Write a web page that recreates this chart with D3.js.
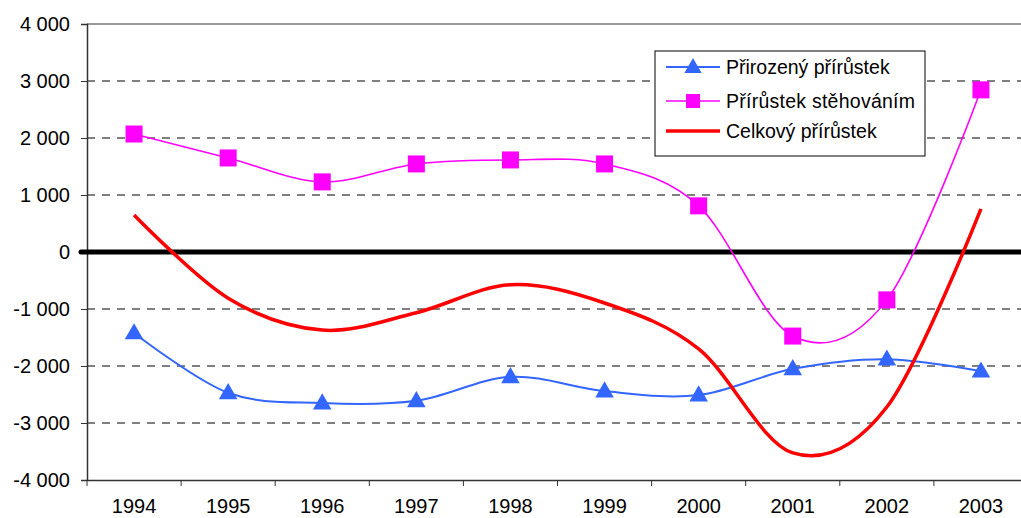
<!DOCTYPE html>
<html>
<head>
<meta charset="utf-8">
<script src="https://cdn.jsdelivr.net/npm/d3@7"></script>
<style>
  body { margin: 0; background: #fff; }
  svg { display: block; font-family: "Liberation Sans", Arial, sans-serif; }
</style>
</head>
<body>
<script>
// values
var years = ["1994", "1995", "1996", "1997", "1998", "1999", "2000", "2001", "2002", "2003"];
var prirozeny = [-1420, -2470, -2650, -2610, -2190, -2440, -2510, -2050, -1880, -2090];
var stehovani = [2070, 1650, 1230, 1545, 1615, 1545, 810, -1475, -840, 2845];
var celkovy = [650, -810, -1370, -1065, -575, -895, -1700, -3525, -2720, 755];
var yTicks = [-4000, -3000, -2000, -1000, 0, 1000, 2000, 3000, 4000];
var legendNames = ["Přirozený přírůstek", "Přírůstek stěhováním", "Celkový přírůstek"];

var W = 1021, H = 518;
var plotLeft = 87, plotRight = 1028, plotTop = 24, plotBottom = 480;

var svg = d3.select("body").append("svg")
    .attr("width", W)
    .attr("height", H);

var x = d3.scaleBand().domain(years).range([plotLeft, plotRight]);
var y = d3.scaleLinear().domain([-4000, 4000]).range([plotBottom, plotTop]);

var loc = d3.formatLocale({ decimal: ",", thousands: " ", grouping: [3], currency: ["", ""], minus: "-" });
var fmt = loc.format(",d");

// grid lines (dashed)
svg.append("g").selectAll("line")
    .data(yTicks.filter(function (d) { return d != 0 && d != 4000 && d != -4000; }))
    .enter().append("line")
    .attr("x1", plotLeft).attr("x2", plotRight)
    .attr("y1", function (d) { return y(d); })
    .attr("y2", function (d) { return y(d); })
    .attr("stroke", "#000")
    .attr("stroke-width", 1)
    .attr("stroke-dasharray", "8,7");

// plot area top border
svg.append("line")
    .attr("x1", plotLeft).attr("x2", plotRight)
    .attr("y1", y(4000)).attr("y2", y(4000))
    .attr("stroke", "#999").attr("stroke-width", 2);

// y axis
var yAxis = svg.append("g")
    .attr("transform", "translate(" + plotLeft + ",0)")
    .call(d3.axisLeft(y).tickValues(yTicks).tickFormat(fmt).tickSize(6).tickPadding(11));
yAxis.select(".domain").attr("stroke", "#333").attr("stroke-width", 1.5);
yAxis.selectAll(".tick line").attr("stroke", "#333");
yAxis.selectAll("text").attr("font-size", 20).attr("fill", "#000")
    .attr("font-family", "Liberation Sans, Arial, sans-serif");

// x axis, ticks between categories
var xAxis = svg.append("g")
    .attr("transform", "translate(0," + plotBottom + ")")
    .call(d3.axisBottom(x).tickSize(0).tickPadding(19));
xAxis.select(".domain").attr("stroke", "#333").attr("stroke-width", 1.5);
xAxis.selectAll("text").attr("font-size", 20).attr("fill", "#000")
    .attr("font-family", "Liberation Sans, Arial, sans-serif");
xAxis.selectAll(".sep")
    .data(years)
    .enter().append("line")
    .attr("class", "sep")
    .attr("x1", function (d) { return x(d); })
    .attr("x2", function (d) { return x(d); })
    .attr("y1", 0).attr("y2", 6)
    .attr("stroke", "#333");

// zero line
svg.append("line")
    .attr("x1", plotLeft - 6).attr("x2", plotRight)
    .attr("y1", y(0)).attr("y2", y(0))
    .attr("stroke", "#000").attr("stroke-width", 5)
    .attr("stroke-linecap", "round");

var cx = function (i) { return x(years[i]) + x.bandwidth() / 2; };
var line = d3.line()
    .x(function (d, i) { return cx(i); })
    .y(function (d) { return y(d); })
    .curve(d3.curveCardinal.tension(0));

var blue = "#3366ff", magenta = "#ff00ff", red = "#ff0000";

svg.append("path").datum(prirozeny)
    .attr("d", line).attr("fill", "none")
    .attr("stroke", blue).attr("stroke-width", 2);
svg.append("path").datum(stehovani)
    .attr("d", line).attr("fill", "none")
    .attr("stroke", magenta).attr("stroke-width", 1.6);
svg.append("path").datum(celkovy)
    .attr("d", line).attr("fill", "none")
    .attr("stroke", red).attr("stroke-width", 3.5);

var tri = d3.symbol().type(d3.symbolTriangle).size(150);
svg.append("g").selectAll("path")
    .data(prirozeny).enter().append("path")
    .attr("d", tri)
    .attr("transform", function (d, i) { return "translate(" + cx(i) + "," + (y(d) + 1) + ")"; })
    .attr("fill", blue);

svg.append("g").selectAll("rect")
    .data(stehovani).enter().append("rect")
    .attr("x", function (d, i) { return cx(i) - 8.5; })
    .attr("y", function (d) { return y(d) - 8.5; })
    .attr("width", 17).attr("height", 17)
    .attr("fill", magenta);

// legend
var lg = svg.append("g").attr("transform", "translate(655,51)");
lg.append("rect")
    .attr("width", 270).attr("height", 105)
    .attr("fill", "#fff").attr("stroke", "#000").attr("stroke-width", 1);
var rows = [16, 50, 80];
var colors = [blue, magenta, red];
var widths = [2, 1.6, 3.5];
legendNames.forEach(function (name, i) {
    lg.append("line")
        .attr("x1", 11).attr("x2", 65)
        .attr("y1", rows[i]).attr("y2", rows[i])
        .attr("stroke", colors[i]).attr("stroke-width", widths[i]);
    lg.append("text")
        .attr("x", 71).attr("y", rows[i] + 7)
        .attr("font-size", 19.5)
        .attr("textLength", i == 1 ? 189 : null)
        .text(name);
});
lg.append("path")
    .attr("d", d3.symbol().type(d3.symbolTriangle).size(130))
    .attr("transform", "translate(38," + (rows[0] + 1) + ")")
    .attr("fill", blue);
lg.append("rect")
    .attr("x", 31).attr("y", rows[1] - 7)
    .attr("width", 14).attr("height", 14)
    .attr("fill", magenta);
</script>
</body>
</html>
